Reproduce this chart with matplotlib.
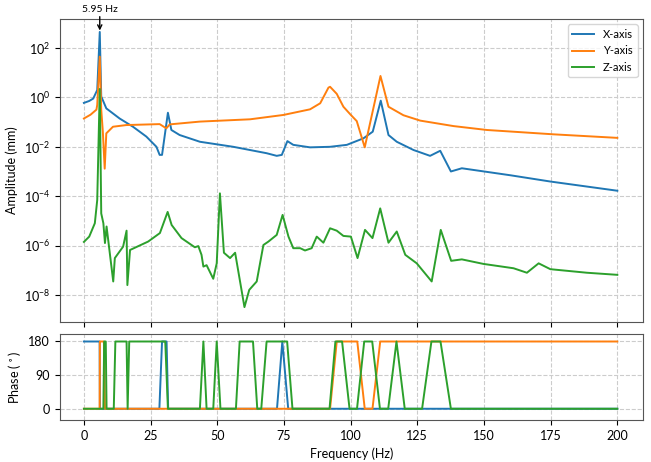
import matplotlib
matplotlib.use('Agg')
import matplotlib.pyplot as plt

plt.rcParams['font.family'] = ['Lato', 'DejaVu Sans']

# Amplitude data
x_freq = [0, 2, 3.5, 5.0, 5.95, 6.5, 8.4, 13.4, 18.4, 23.4, 27.2, 28.4, 29.3, 31.5, 32.8, 35.9,
          43.5, 56, 68.5, 72.3, 74.2, 76.3, 78.5, 84.8, 92.3, 98.6, 104.8, 108.3, 111.3, 114.2,
          117.3, 123.6, 129.8, 133.6, 137.6, 141.7, 160, 175, 200]
x_amp = [0.6, 0.72, 0.9, 2.0, 450, 1.1, 0.36, 0.14, 0.065, 0.026, 0.010, 0.0047, 0.0047, 0.24, 0.048, 0.030,
         0.016, 0.010, 0.0055, 0.0043, 0.0047, 0.017, 0.012, 0.0095, 0.010, 0.012, 0.022, 0.041, 0.74, 0.030,
         0.016, 0.0074, 0.0043, 0.0069, 0.0010, 0.00135, 7e-4, 3.9e-4, 1.66e-4]

y_freq = [0, 2.5, 4.7, 5.0, 5.95, 6.5, 7.1, 7.8, 8.4, 10.9, 15.9, 28.4, 30.9, 32.2, 43.5, 62.3,
          74.8, 84.8, 88.6, 91.7, 92.3, 94.8, 97.3, 100, 102.3, 105.3, 111.2, 114.2, 119.8, 126.1,
          138.6, 151.1, 176.1, 200]
y_amp = [0.14, 0.2, 0.32, 0.5, 45, 0.32, 0.041, 0.0013, 0.035, 0.065, 0.076, 0.083, 0.056, 0.081, 0.105, 0.13,
         0.195, 0.33, 0.58, 2.5, 2.7, 1.4, 0.42, 0.2, 0.11, 0.0095, 7.4, 0.42, 0.19, 0.115,
         0.069, 0.048, 0.032, 0.023]

z_freq = [0, 2, 4.1, 5.0, 5.95, 6.5, 7.3, 7.9, 8.5, 11.0, 11.6, 14.7, 16.0, 16.3, 17.3, 24.1,
          28.5, 31.4, 32.9, 36.6, 41.6, 42.9, 44.1, 44.8, 46.0, 48.5, 49.8, 51.0, 52.5, 54.8,
          56.7, 60.2, 62.0, 64.8, 67.3, 69.2, 72.3, 74.5, 76.7, 78.5, 81.1, 82.9, 85.4, 87.3,
          89.8, 92.3, 94.8, 97.3, 100.1, 102.6, 105.4, 108.2, 111.1, 114.2, 117.3, 120.5, 124.8,
          130.4, 133.8, 137.7, 141.7, 149.8, 161.1, 166.1, 170.5, 174.9, 188.6, 200]
z_amp = [1.4e-6, 2.3e-6, 8e-6, 7e-5, 2.2, 2e-5, 8e-6, 1.26e-6, 5.9e-6, 3.5e-8, 3.1e-7, 9e-7, 4e-6, 2.5e-8, 6.6e-7, 1.45e-6,
         3.2e-6, 2.3e-5, 6.8e-6, 2e-6, 8.5e-7, 9.5e-7, 4.2e-7, 1.4e-7, 1.6e-7, 4.5e-8, 1.9e-7, 1.3e-4, 5.1e-7, 3.1e-7,
         5.1e-7, 3.2e-9, 1.6e-8, 3.5e-8, 1.05e-6, 1.45e-6, 2.7e-6, 1.74e-5, 2.3e-6, 7.8e-7, 7.8e-7, 6.3e-7, 7.8e-7, 2.3e-6,
         1.3e-6, 5e-6, 4e-6, 2.45e-6, 2.3e-6, 3.1e-7, 4.3e-6, 2e-6, 3.2e-5, 1.3e-6, 3.7e-6, 4.2e-7, 1.9e-7,
         3.5e-8, 4.3e-6, 2.4e-7, 2.75e-7, 1.8e-7, 1.2e-7, 7.9e-8, 1.9e-7, 1.1e-7, 7.9e-8, 6.5e-8]

# Phase data (0 or 180 degrees)
x_ph_freq = [0, 5.9, 6.0, 28.3, 29.3, 31.0, 31.6, 72.4, 74.4, 76.6, 200]
x_phase = [180, 180, 0, 0, 180, 180, 0, 0, 180, 0, 0]

y_ph_freq = [0, 5.9, 6.0, 7.5, 7.9, 92.3, 94.8, 102.5, 105.3, 108.2, 111.1, 200]
y_phase = [0, 0, 180, 180, 0, 0, 180, 180, 0, 0, 180, 180]

z_ph_freq = [0, 7.3, 7.6, 8.2, 8.5, 11.2, 11.8, 16.0, 16.4, 17.0, 30.5, 31.5, 43.5, 44.8, 46.0,
             48.5, 49.8, 51.2, 57.0, 58.4, 63.4, 65.0, 66.5, 68.5, 76.2, 78.2, 92.1, 94.3, 96.8, 99.6,
             102.4, 105.1, 108.1, 111.0, 114.1, 117.2, 120.3, 126.8, 130.3, 133.7, 137.6, 200]
z_phase = [0, 0, 180, 180, 0, 0, 180, 180, 0, 180, 180, 0, 0, 180, 0,
           0, 180, 0, 0, 180, 180, 0, 0, 180, 180, 0, 0, 180, 180, 0,
           0, 180, 180, 0, 0, 180, 0, 0, 180, 180, 0, 0]

peak_freq = 5.95
peak_amp = 450

fig = plt.figure(figsize=(6.51, 4.62), dpi=100)
ax1 = fig.add_axes([0.092, 0.304, 0.896, 0.655])
ax2 = fig.add_axes([0.092, 0.091, 0.896, 0.186])

# Amplitude plot
ax1.plot(x_freq, x_amp, label='X-axis', lw=1.4)
ax1.plot(y_freq, y_amp, label='Y-axis', lw=1.4)
ax1.plot(z_freq, z_amp, label='Z-axis', lw=1.4)
ax1.set_yscale('log')
ax1.set_xlim(-9, 209.7)
ax1.set_ylim(10**-9.08, 10**3.18)
ax1.set_yticks([1e2, 1e0, 1e-2, 1e-4, 1e-6, 1e-8])
ax1.minorticks_off()
ax1.set_xticklabels([])
ax1.set_ylabel('Amplitude (mm)', fontsize=9)
ax1.grid(True, linestyle='--', color='#cccccc', lw=0.8)
ax1.legend(loc='upper right', fontsize=8)

# Annotate resonance peak
ax1.annotate(f'{peak_freq} Hz', xy=(peak_freq, peak_amp), xytext=(0, 13), textcoords='offset points',
             ha='center', va='bottom', fontsize=7.5,
             arrowprops=dict(arrowstyle='->', color='black', lw=1, shrinkA=0, shrinkB=1),
             annotation_clip=False)

# Phase plot
ax2.plot(x_ph_freq, x_phase, lw=1.4)
ax2.plot(y_ph_freq, y_phase, lw=1.4)
ax2.plot(z_ph_freq, z_phase, lw=1.4)
ax2.set_xlim(-9, 209.7)
ax2.set_ylim(-30, 200)
ax2.set_yticks([0, 90, 180])
ax2.set_xlabel('Frequency (Hz)', fontsize=9)
ax2.set_ylabel('Phase ($^\\circ$)', fontsize=9)
ax2.grid(True, linestyle='--', color='#cccccc', lw=0.8)

for ax in (ax1, ax2):
    ax.tick_params(labelsize=9)
    for s in ax.spines.values():
        s.set_color('#555555')

fig.savefig('out.png', dpi=100)
